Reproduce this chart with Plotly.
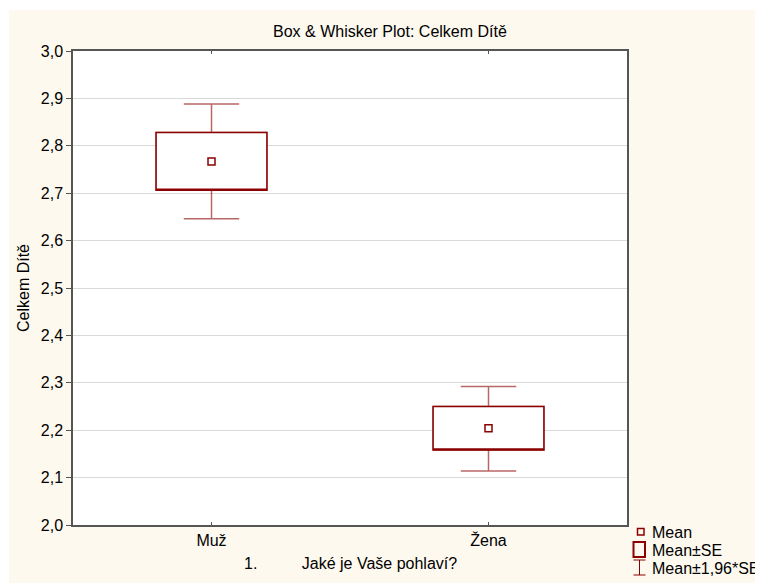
import plotly.graph_objects as go

# ---- data ----
categories = ["Muž", "Žena"]
means = [2.767, 2.204]
se_low = [2.706, 2.158]
se_high = [2.828, 2.250]
ci_low = [2.646, 2.114]
ci_high = [2.888, 2.292]
y_ticks = [2.0, 2.1, 2.2, 2.3, 2.4, 2.5, 2.6, 2.7, 2.8, 2.9, 3.0]
legend_labels = ["Mean", "Mean±SE", "Mean±1,96*SE"]

W, H = 763, 583
OFF = 8  # page body margin
# plot-area edges in page pixels (as measured on the reference)
PL, PR, PT, PB = 73, 627, 51, 525
L, R, T, B = PL - OFF, PR - OFF, PT - OFF, PB - OFF
FONT = "Arial, 'Liberation Sans', sans-serif"
RED = "#8b0000"
CREAM = "#fdf9ef"


def px(xp):  # page pixel -> paper x
    return (xp - PL) / (PR - PL)


def py(yp):  # page pixel -> paper y
    return (PB - yp) / (PB - PT)


fig = go.Figure()

# whiskers (Mean ± 1.96*SE)
fig.add_trace(go.Box(
    x=categories, q1=se_low, median=se_low, q3=se_high,
    lowerfence=ci_low, upperfence=ci_high,
    width=0.4, whiskerwidth=0.5,
    fillcolor="white", line=dict(color="rgba(139,0,0,0.6)", width=1.5),
    boxpoints=False, showlegend=False, hoverinfo="skip",
))
# boxes (Mean ± SE)
fig.add_trace(go.Box(
    x=categories, q1=se_low, median=se_low, q3=se_high,
    lowerfence=se_low, upperfence=se_high,
    width=0.4, whiskerwidth=0.5,
    fillcolor="white", line=dict(color=RED, width=1.5),
    boxpoints=False, showlegend=False, hoverinfo="skip",
))
# means
fig.add_trace(go.Scatter(
    x=categories, y=means, mode="markers",
    marker=dict(symbol="square-open", size=7, color=RED, line=dict(width=1.5, color=RED)),
    showlegend=False, hoverinfo="skip",
))

shapes = [
    # thin white strips at top and left (reference cream starts slightly later)
    dict(type="rect", xref="paper", yref="paper", x0=px(OFF), x1=px(OFF + W), y0=py(OFF + 2), y1=py(OFF),
         fillcolor="white", line=dict(width=0), layer="below"),
    dict(type="rect", xref="paper", yref="paper", x0=px(OFF), x1=px(OFF + 1), y0=py(OFF + H), y1=py(OFF),
         fillcolor="white", line=dict(width=0), layer="below"),
    # legend icons
    dict(type="rect", xref="paper", yref="paper", x0=px(637.5), x1=px(644), y0=py(535), y1=py(528.5),
         fillcolor="rgba(0,0,0,0)", line=dict(color=RED, width=1.5)),
    dict(type="rect", xref="paper", yref="paper", x0=px(633.5), x1=px(645), y0=py(557), y1=py(542),
         fillcolor="rgba(0,0,0,0)", line=dict(color=RED, width=2)),
    dict(type="line", xref="paper", yref="paper", x0=px(639.5), x1=px(639.5), y0=py(575), y1=py(560),
         line=dict(color=RED, width=1)),
    dict(type="line", xref="paper", yref="paper", x0=px(633.5), x1=px(645.5), y0=py(560), y1=py(560),
         line=dict(color=RED, width=1)),
    dict(type="line", xref="paper", yref="paper", x0=px(633.5), x1=px(645.5), y0=py(575), y1=py(575),
         line=dict(color=RED, width=1)),
]

annotations = [
    dict(text="Box & Whisker Plot: Celkem Dítě", x=px(390), y=py(32), xref="paper", yref="paper",
         showarrow=False, xanchor="center", yanchor="middle", font=dict(size=16, color="black")),
    dict(text="1." + "\u00a0" * 10 + "Jaké je Vaše pohlaví?", x=px(350), y=py(563),
         xref="paper", yref="paper", showarrow=False, xanchor="center", yanchor="middle",
         font=dict(size=16, color="black")),
    dict(text="Celkem Dítě", x=px(23), y=py(288), xref="paper", yref="paper", textangle=-90,
         showarrow=False, xanchor="center", yanchor="middle", font=dict(size=16, color="black")),
]
for lab, yp in zip(legend_labels, [532, 550.5, 568.5]):
    annotations.append(dict(text=lab, x=px(650), y=py(yp), xref="paper", yref="paper",
                            showarrow=False, xanchor="left", yanchor="middle",
                            font=dict(size=16, color="black")))

fig.update_layout(
    width=W, height=H,
    margin=dict(l=L, r=W - R, t=T, b=H - B, pad=0),
    paper_bgcolor=CREAM, plot_bgcolor="white",
    font=dict(family=FONT, size=16, color="black"),
    separators=", ",
    boxmode="overlay",
    showlegend=False,
    shapes=shapes,
    annotations=annotations,
    xaxis=dict(
        type="category", range=[-0.5, 1.5],
        showline=True, linecolor="#555555", linewidth=1.5, mirror="ticks",
        ticks="inside", ticklen=3, tickcolor="#555555",
        showgrid=False, zeroline=False,
        tickfont=dict(size=16, color="black"),
    ),
    yaxis=dict(
        range=[2.0, 3.0], tickvals=y_ticks, tickformat=".1f",
        showline=True, linecolor="#555555", linewidth=1.5, mirror=True,
        ticks="outside", ticklen=5, tickcolor="#555555",
        showgrid=True, gridcolor="#d9d9d9", gridwidth=1, zeroline=False,
        tickfont=dict(size=16, color="black"),
    ),
)

fig.write_html(
    "out.html",
    post_script="document.documentElement.style.overflow='hidden';document.body.style.overflow='hidden';",
)
